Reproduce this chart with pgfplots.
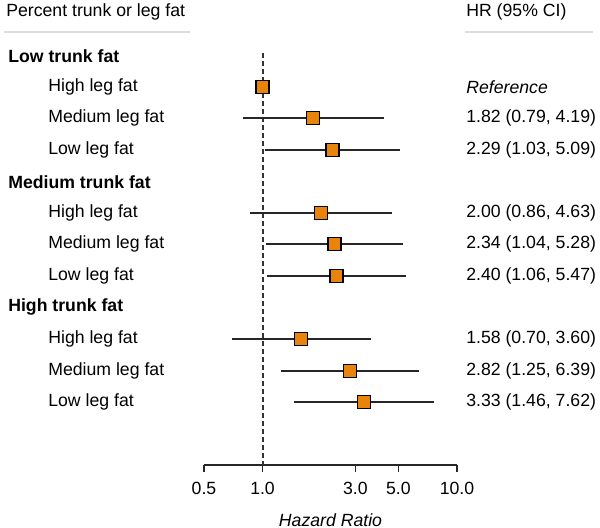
\documentclass[border=0pt]{standalone}
\usepackage{pgfplots}
\pgfplotsset{compat=1.18}
\usepackage{fontspec}
\setmainfont{Liberation Sans}
\definecolor{sqfill}{RGB}{232,131,12}
\definecolor{rulegray}{RGB}{221,221,221}
\begin{document}
\begin{tikzpicture}[font=\fontsize{10.6}{12}\selectfont]
\path[use as bounding box] (0,0) rectangle (360pt,316.8pt);
\begin{axis}[at={(122.4pt,316.8pt)}, anchor=north west, scale only axis,
  width=151.8pt, height=279pt,
  xmode=log, xmin=0.5, xmax=10, ymin=0, ymax=465, y dir=reverse,
  axis x line*=bottom, axis y line=none,
  xtick={0.5,1,3,5,10}, xticklabels={\mbox{0.5},\mbox{1.0},\mbox{3.0},\mbox{5.0},\mbox{10.0}},
  xminorticks=false, tick align=outside, major tick length=4.2pt,
  x axis line style={black!85, line width=0.8pt}, x tick style={black!85, line width=0.8pt},
  xticklabel style={font=\fontsize{10.6}{12}\selectfont, yshift=-2.8pt},
  xlabel={\itshape Hazard Ratio}, xlabel style={font=\fontsize{10.6}{12}\selectfont, yshift=-4.2pt},
  /pgf/number format/assume math mode=true,
  clip=false]
\addplot[black!80, line width=1.2pt, dash pattern=on 3pt off 1.8pt] coordinates {(1,53) (1,465)};
% CIs
\addplot[black!85, line width=0.8pt] coordinates {(0.79,118) (4.19,118)};
\addplot[black!85, line width=0.8pt] coordinates {(1.03,150) (5.09,150)};
\addplot[black!85, line width=0.8pt] coordinates {(0.86,213) (4.63,213)};
\addplot[black!85, line width=0.8pt] coordinates {(1.04,244) (5.28,244)};
\addplot[black!85, line width=0.8pt] coordinates {(1.06,276) (5.47,276)};
\addplot[black!85, line width=0.8pt] coordinates {(0.70,339) (3.60,339)};
\addplot[black!85, line width=0.8pt] coordinates {(1.25,371) (6.39,371)};
\addplot[black!85, line width=0.8pt] coordinates {(1.46,402) (7.62,402)};
% point estimates
\addplot[only marks, mark=square*, mark size=3.9pt, mark options={fill=sqfill, draw=black, line width=0.9pt}]
 coordinates {(1.00,87) (1.82,118) (2.29,150) (2.00,213) (2.34,244) (2.40,276) (1.58,339) (2.82,371) (3.33,402)};
\end{axis}
\begin{scope}[x=0.6pt, y=-0.6pt, yshift=316.8pt, every node/.style={inner sep=0pt, anchor=west}]
% header
\node at (6,12) {Percent trunk or leg fat};
\node at (466,12) {HR (95\% CI)};
\draw[rulegray, line width=1.3pt] (4,32) -- (190,32);
\draw[rulegray, line width=1.3pt] (465,32) -- (593,32);
% row labels
\node[font=\fontsize{10.6}{12}\selectfont\bfseries] at (8,56) {Low trunk fat};
\node at (48,87) {High leg fat};
\node at (48,118) {Medium leg fat};
\node at (48,150) {Low leg fat};
\node[font=\fontsize{10.6}{12}\selectfont\bfseries] at (8,182) {Medium trunk fat};
\node at (48,213) {High leg fat};
\node at (48,244) {Medium leg fat};
\node at (48,276) {Low leg fat};
\node[font=\fontsize{10.6}{12}\selectfont\bfseries] at (8,307) {High trunk fat};
\node at (48,339) {High leg fat};
\node at (48,371) {Medium leg fat};
\node at (48,402) {Low leg fat};
% HR column
\node at (466,87) {\itshape Reference};
\node at (466,118) {1.82 (0.79, 4.19)};
\node at (466,150) {2.29 (1.03, 5.09)};
\node at (466,213) {2.00 (0.86, 4.63)};
\node at (466,244) {2.34 (1.04, 5.28)};
\node at (466,276) {2.40 (1.06, 5.47)};
\node at (466,339) {1.58 (0.70, 3.60)};
\node at (466,371) {2.82 (1.25, 6.39)};
\node at (466,402) {3.33 (1.46, 7.62)};
\end{scope}
\end{tikzpicture}
\end{document}
